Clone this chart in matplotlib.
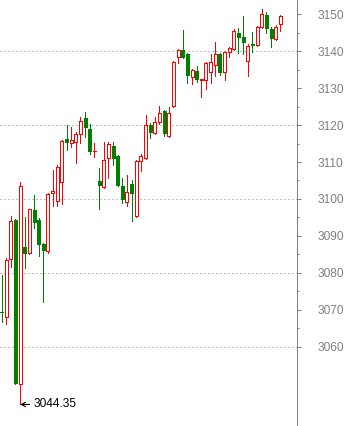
import matplotlib
matplotlib.use('Agg')
import matplotlib.pyplot as plt
from matplotlib.patches import Rectangle
from matplotlib.ticker import FixedLocator

opens = [3069.5, 3068.1, 3083.7, 3094.3, 3050.0, 3087.0, 3085.4, 3097.0, 3094.3, 3087.8,
         3085.9, 3101.6, 3099.4, 3104.6, 3116.2, 3115.1, 3115.4, 3117.6, 3121.9, 3118.9,
         3112.85, 3104.9, 3103.2, 3111.1, 3114.3, 3111.6, 3103.5, 3099.2, 3104.1, 3095.4,
         3110.3, 3111.1, 3120.0, 3117.9, 3120.8, 3123.8, 3117.0, 3125.2, 3138.4, 3140.3,
         3139.25, 3133.0, 3134.6, 3132.2, 3132.2, 3134.4, 3136.3, 3139.25, 3134.4, 3139.8,
         3140.6, 3144.9, 3143.85, 3137.4, 3141.96, 3141.7, 3146.6, 3149.8, 3146.0, 3143.3,
         3147.4]
closes = [3069.3, 3083.5, 3094.0, 3050.2, 3103.5, 3085.4, 3097.3, 3093.8, 3087.8, 3086.2,
          3101.3, 3102.2, 3108.7, 3115.7, 3115.4, 3116.0, 3117.6, 3121.1, 3119.5, 3113.0,
          3113.0, 3103.8, 3110.5, 3114.9, 3111.1, 3103.8, 3100.0, 3101.9, 3101.6, 3110.3,
          3111.6, 3120.0, 3118.1, 3120.8, 3123.3, 3117.9, 3123.3, 3137.1, 3140.3, 3138.4,
          3133.6, 3134.9, 3132.5, 3132.35, 3136.8, 3137.1, 3139.25, 3134.4, 3139.8, 3140.9,
          3145.5, 3143.85, 3142.5, 3141.4, 3141.7, 3146.6, 3150.1, 3146.3, 3143.6, 3146.6,
          3149.5]
highs = [3079.4, 3084.0, 3095.4, 3094.5, 3104.6, 3095.1, 3097.4, 3101.1, 3094.8, 3088.0,
         3101.6, 3107.8, 3109.2, 3116.0, 3120.0, 3119.5, 3118.1, 3122.2, 3123.5, 3120.3,
         3115.1, 3108.4, 3115.4, 3115.4, 3115.4, 3111.9, 3105.7, 3106.5, 3105.1, 3110.5,
         3112.2, 3122.7, 3120.6, 3122.2, 3125.2, 3124.0, 3124.9, 3137.3, 3140.5, 3145.75,
         3139.5, 3135.1, 3136.0, 3132.4, 3137.0, 3139.25, 3142.5, 3139.4, 3140.0, 3141.1,
         3146.0, 3146.3, 3149.5, 3142.0, 3145.2, 3146.8, 3151.4, 3150.6, 3146.6, 3147.1,
         3149.8]
lows = [3066.7, 3066.1, 3081.6, 3050.0, 3044.35, 3081.3, 3085.1, 3092.1, 3084.6, 3072.1,
        3085.4, 3098.1, 3098.1, 3098.6, 3113.3, 3114.1, 3109.7, 3115.1, 3116.8, 3112.2,
        3111.4, 3097.3, 3103.0, 3105.7, 3109.2, 3103.6, 3098.9, 3098.1, 3094.0, 3095.2,
        3107.6, 3110.9, 3116.5, 3117.6, 3120.3, 3117.05, 3116.8, 3125.0, 3136.8, 3138.2,
        3131.4, 3131.1, 3131.7, 3127.6, 3129.8, 3131.4, 3133.3, 3133.6, 3132.2, 3138.4,
        3140.4, 3139.5, 3139.25, 3133.3, 3139.8, 3141.5, 3146.4, 3144.9, 3141.1, 3143.1,
        3145.5]

y_ticks = [3060, 3070, 3080, 3090, 3100, 3110, 3120, 3130, 3140, 3150]
y_minor = [3065, 3075, 3085, 3095, 3105, 3115, 3125, 3135, 3145]
grid_levels = [3060, 3080, 3100, 3120, 3140]
low_value = 3044.35
low_label = "3044.35"

UP = '#FF0000'
DOWN = '#008000'
GRAY = '#808080'
PX = 72 / 100.0

fig = plt.figure(figsize=(3.48, 4.26), dpi=100)
ax = fig.add_axes([0, 0, 297 / 348, 1])
ax.set_xlim(-0.323, 63.59)
ax.set_ylim(3038.52, 3153.87)

for g in grid_levels:
    ax.axhline(g, color=GRAY, lw=1 * PX, linestyle=(0, (1, 3)), zorder=1)

bw = 0.645
low_idx = None
for i, (o, h, l, c) in enumerate(zip(opens, highs, lows, closes)):
    up = c >= o
    col = UP if up else DOWN
    ax.plot([i, i], [l, h], color=col, lw=1 * PX, zorder=2, antialiased=False,
            solid_capstyle='butt')
    bottom = min(o, c)
    height = max(abs(c - o), 0.05)
    if up:
        rect = Rectangle((i - bw / 2, bottom), bw, height, facecolor='white',
                         edgecolor=col, lw=1 * PX, zorder=3, antialiased=False)
    else:
        rect = Rectangle((i - bw / 2, bottom), bw, height, facecolor=col,
                         edgecolor=col, lw=1 * PX, zorder=3, antialiased=False)
    ax.add_patch(rect)
    if l == low_value:
        low_idx = i

ax.annotate(low_label, xy=(low_idx, low_value), xytext=(9.8, 0),
            textcoords='offset points', ha='left', va='center',
            fontsize=8.6, family='Liberation Sans', color='black',
            arrowprops=dict(arrowstyle='->,head_length=0.35,head_width=0.18',
                            color='black', lw=0.8, shrinkA=1, shrinkB=0))

for s in ['left', 'top', 'bottom']:
    ax.spines[s].set_visible(False)
ax.spines['right'].set_color(GRAY)
ax.spines['right'].set_linewidth(1 * PX)
ax.xaxis.set_visible(False)
ax.yaxis.tick_right()
ax.yaxis.set_major_locator(FixedLocator(y_ticks))
ax.yaxis.set_minor_locator(FixedLocator(y_minor))
ax.tick_params(axis='y', which='major', direction='out', length=4 * PX,
               width=1 * PX, color=GRAY, labelcolor=GRAY, labelsize=8.6,
               pad=17 * PX)
ax.tick_params(axis='y', which='minor', direction='out', length=2 * PX,
               width=1 * PX, color=GRAY)
for lab in ax.get_yticklabels():
    lab.set_family('Liberation Sans')
ax.set_yticklabels([str(t) for t in y_ticks], family='Liberation Sans')

fig.savefig('out.png', dpi=100, facecolor='white')
